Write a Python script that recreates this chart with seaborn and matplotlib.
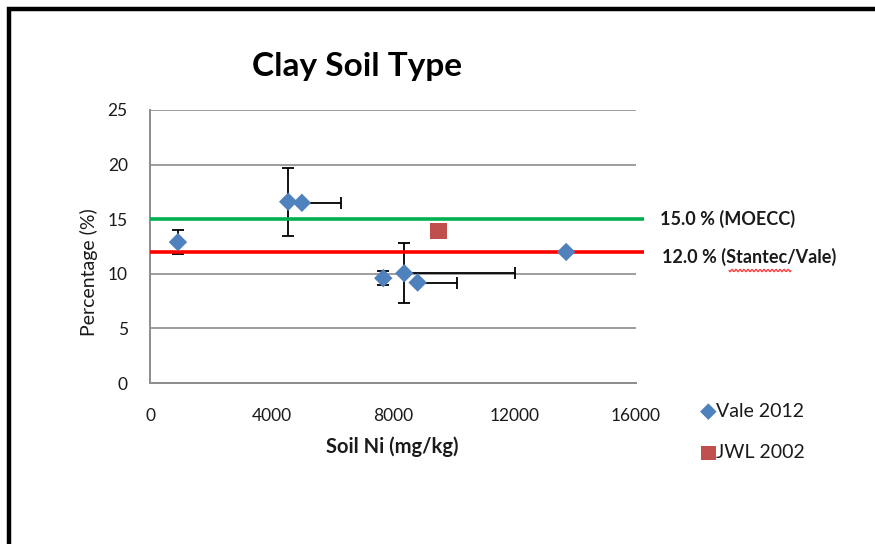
import numpy as np
import matplotlib
matplotlib.use("Agg")
import matplotlib.pyplot as plt
from matplotlib.lines import Line2D
import seaborn as sns
import pandas as pd

# Vale 2012 survey: soil nickel vs. percentage, with one-sided error bars
ni_vale = [920, 4550, 5000, 7680, 8370, 8810, 13700]
pct_vale = [12.9, 16.6, 16.5, 9.6, 10.05, 9.2, 12.0]
pct_err = [1.1, 3.1, 0.0, 0.65, 2.75, 0.0, 0.0]
ni_err_plus = [0, 0, 1280, 0, 3640, 1290, 0]

# JWL 2002 result
ni_jwl = [9500]
pct_jwl = [13.9]

# Guideline levels
guide_levels = [15.0, 12.0]
guide_labels = ["15.0 % (MOECC)", "12.0 % (Stantec/Vale)"]
guide_colors = ["#00B050", "#FF0000"]
guide_span = [0, 16260]

x_ticks = [0, 4000, 8000, 12000, 16000]
y_ticks = [0, 5, 10, 15, 20, 25]

sns.set_style("white")
plt.rcParams["font.family"] = ["Lato", "DejaVu Sans"]

W, H = 875, 544
fig = plt.figure(figsize=(W / 100, H / 100), dpi=100)
ax = fig.add_axes([150 / W, 1 - 383 / H, (636 - 150) / W, (383 - 110) / H])


def fx(px):
    return px / W


def fy(py):
    return 1 - py / H


vale = pd.DataFrame({"ni": ni_vale, "pct": pct_vale})
jwl = pd.DataFrame({"ni": ni_jwl, "pct": pct_jwl})

grid_col = "#8C8C8C"
txt_col = "#1a1a1a"

# error bars (beneath everything else)
ni_arr = np.array(ni_vale, dtype=float)
pct_arr = np.array(pct_vale, dtype=float)
ye = np.array(pct_err, dtype=float)
xe = np.array(ni_err_plus, dtype=float)
m = ye > 0
ax.errorbar(ni_arr[m], pct_arr[m], yerr=ye[m], fmt="none", ecolor="black",
            elinewidth=1.3, capsize=4.5, capthick=1.3, zorder=2)
m = xe > 0
ax.errorbar(ni_arr[m], pct_arr[m], xerr=[np.zeros(m.sum()), xe[m]], fmt="none",
            ecolor="black", elinewidth=1.3, capsize=4.5, capthick=1.3, zorder=2)

# guideline lines
for lvl, col in zip(guide_levels, guide_colors):
    ax.plot(guide_span, [lvl, lvl], color=col, lw=2.6, clip_on=False, zorder=3,
            solid_capstyle="butt")

sns.scatterplot(data=vale, x="ni", y="pct", marker="D", s=88, color="#4F81BD",
                edgecolor="none", ax=ax, zorder=5, label="Vale 2012")
sns.scatterplot(data=jwl, x="ni", y="pct", marker="s", s=140, color="#C0504D",
                edgecolor="none", ax=ax, zorder=5, label="JWL 2002")

ax.set_xlim(x_ticks[0], x_ticks[-1])
ax.set_ylim(y_ticks[0], y_ticks[-1])
ax.set_xticks(x_ticks)
ax.set_yticks(y_ticks)
ax.set_xticklabels([str(v) for v in x_ticks])
ax.set_yticklabels([str(v) for v in y_ticks])
ax.yaxis.grid(True, color=grid_col, lw=1.2)
ax.set_axisbelow(True)
for s in ["top", "right"]:
    ax.spines[s].set_visible(False)
for s in ["left", "bottom"]:
    ax.spines[s].set_color(grid_col)
    ax.spines[s].set_linewidth(1.4)
ax.tick_params(axis="x", direction="out", length=4, width=1.3, color=grid_col,
               labelsize=12.5, pad=14, labelcolor=txt_col)
ax.tick_params(axis="y", length=0, labelsize=12.5, pad=16, labelcolor=txt_col)
ax.set_xlabel("")
ax.set_ylabel("")

# axis titles and chart title
fig.text(fx(392), fy(447), "Soil Ni (mg/kg)", ha="center", va="center",
         fontsize=14.5, fontweight="bold", color=txt_col)
fig.text(fx(89), fy(272), "Percentage (%)", ha="center", va="center",
         rotation=90, fontsize=14, color=txt_col)
fig.text(fx(357), fy(76), "Clay Soil Type", ha="center", va="baseline",
         fontsize=24, fontweight="bold", color="black")

# guideline labels
fig.text(fx(660), fy(219), guide_labels[0], ha="left", va="center",
         fontsize=13, fontweight="bold", color=txt_col)
fig.text(fx(662), fy(257), guide_labels[1], ha="left", va="center",
         fontsize=13, fontweight="bold", color=txt_col)

# spell-check squiggle under "Stantec"
sq_x = np.linspace(729, 791, 56)
sq_y = 270.5 + 1.3 * np.sin((sq_x - 729) / 2.0 * np.pi)
fig.add_artist(Line2D(fx(sq_x), fy(sq_y), color="#FF3030", lw=0.9))

# legend
leg = ax.legend(loc="upper left", bbox_to_anchor=(fx(685), fy(393)),
                bbox_transform=fig.transFigure, frameon=False, fontsize=14,
                handletextpad=-0.3, labelspacing=1.25, borderpad=0,
                handlelength=1.4, markerscale=0.9)
for txt in leg.get_texts():
    txt.set_color(txt_col)

# outer frame
fig.add_artist(Line2D([fx(8.5), fx(8.5), fx(880)], [fy(560), fy(8.5), fy(8.5)],
                      color="black", lw=3.2, solid_joinstyle="miter"))

fig.savefig("out.png", dpi=100, facecolor="white")
